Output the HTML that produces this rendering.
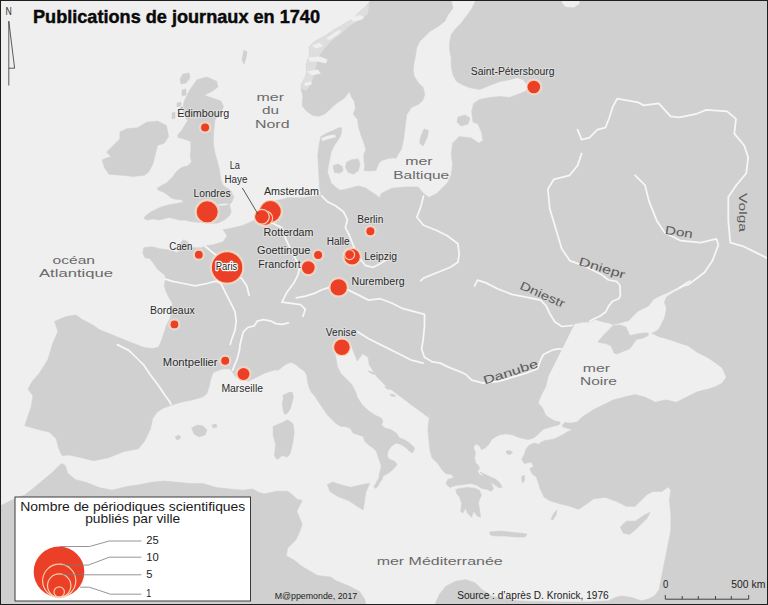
<!DOCTYPE html><html><head><meta charset="utf-8"><style>html,body{margin:0;padding:0;background:#fff;overflow:hidden;width:768px;height:605px;}svg{display:block;font-family:"Liberation Sans",sans-serif;}</style></head><body>
<svg width="768" height="605" viewBox="0 0 768 605">
<rect x="0" y="0" width="768" height="605" fill="#efefef"/>
<g fill="#d0d0d0" stroke="#d0d0d0" stroke-width="0.6" stroke-linejoin="round">
<polygon points="476.0,0.0 768.0,0.0 768.0,605.0 434.6,605.0 439.5,594.3 446.0,586.1 455.8,581.3 465.6,579.6 475.3,582.9 481.8,589.4 491.6,595.9 504.6,599.1 517.7,600.8 530.7,601.4 560.0,602.0 590.0,602.0 608.8,600.8 615.3,597.5 621.8,595.9 631.6,597.5 641.4,600.8 647.9,599.1 654.4,595.9 659.0,590.0 662.0,574.7 665.0,559.8 667.9,545.0 670.9,530.1 670.9,515.2 669.4,500.3 670.9,489.9 667.9,486.9 662.0,491.4 653.1,491.4 647.1,494.4 641.2,500.3 635.2,506.3 626.3,506.3 617.4,501.8 605.5,497.4 593.6,498.8 587.6,503.3 578.7,509.3 569.8,506.3 557.9,503.3 548.9,500.3 544.0,497.0 540.0,488.4 538.7,484.0 536.3,476.7 532.3,474.0 529.7,468.8 533.7,466.1 531.0,462.1 524.4,463.5 521.7,459.5 524.0,455.0 526.0,449.4 528.1,446.2 531.2,444.2 534.4,443.1 538.5,444.2 541.7,442.1 544.8,440.5 549.0,440.0 554.2,439.0 558.3,436.9 562.5,434.8 567.7,431.7 572.9,429.6 567.7,428.5 562.5,426.5 562.5,424.4 560.4,423.6 558.3,424.9 554.2,425.9 549.0,427.5 543.8,429.1 540.6,431.7 536.5,435.8 532.3,438.4 528.1,439.5 522.9,438.4 517.7,436.9 512.5,434.8 506.2,433.8 500.0,434.8 495.4,436.9 491.4,439.8 489.4,443.8 485.4,447.8 481.5,449.7 479.5,445.8 475.5,443.8 473.6,447.8 475.5,452.7 474.5,457.7 475.5,462.6 478.5,465.6 479.5,468.6 477.5,471.6 479.5,474.5 483.5,476.5 487.4,479.5 491.4,483.5 493.4,488.4 491.4,491.4 487.4,489.4 481.5,488.4 477.5,485.5 471.6,483.5 463.6,484.5 455.7,485.5 449.7,487.4 445.8,483.5 447.8,479.5 453.7,477.5 451.7,474.5 445.8,473.6 441.8,469.6 437.9,463.6 431.9,457.7 429.9,449.7 428.9,439.8 427.9,429.9 428.9,420.0 430.0,413.0 428.2,417.3 420.9,411.8 413.6,406.4 406.4,400.9 399.1,395.5 391.8,390.0 384.5,384.5 377.3,377.3 373.6,371.8 369.1,364.5 368.2,357.3 362.7,353.6 357.3,360.9 353.6,352.0 351.0,345.0 345.0,341.0 336.0,346.0 334.5,352.0 335.5,355.5 337.3,366.4 340.9,373.6 346.4,379.1 351.8,384.5 355.5,391.8 357.3,397.3 361.5,404.0 368.1,410.5 374.7,415.0 381.4,418.2 383.0,421.5 381.4,424.8 384.7,428.1 391.3,429.8 396.3,433.1 399.6,438.0 404.5,439.7 409.5,443.0 414.5,447.9 412.8,452.9 409.5,451.2 406.2,447.9 401.2,444.6 396.3,443.0 391.3,446.3 388.0,451.2 387.2,456.2 389.6,459.5 394.6,461.2 397.1,464.5 394.6,467.8 391.3,471.1 386.3,474.4 383.0,476.0 382.2,479.3 379.7,482.6 378.0,486.0 375.6,488.4 373.9,486.8 376.4,482.6 378.9,477.7 379.7,472.7 381.4,466.1 379.7,461.2 378.0,456.2 376.4,451.2 373.1,447.9 368.1,444.6 364.8,441.3 363.2,436.4 358.2,434.7 353.2,433.1 349.9,428.1 345.0,426.4 340.4,426.3 335.9,423.3 331.4,418.9 327.0,414.4 324.0,410.0 321.0,405.5 318.0,401.0 315.1,396.5 311.3,392.1 309.1,387.6 307.6,381.7 306.9,375.7 304.6,371.3 300.2,368.3 295.7,364.6 291.3,362.3 286.8,363.8 282.3,366.8 277.9,370.5 275.4,369.8 265.0,372.9 256.7,377.1 248.3,381.2 240.0,379.2 235.8,377.1 231.7,370.8 229.6,368.8 223.3,368.8 217.1,370.8 212.9,372.9 210.8,379.2 208.8,387.5 206.7,393.8 202.5,396.9 192.1,400.0 181.7,402.1 171.2,405.2 162.9,408.3 156.7,412.5 152.5,418.8 150.4,429.2 144.2,441.7 138.2,448.8 123.3,451.7 108.4,457.7 93.5,460.7 81.6,457.7 69.7,455.0 62.0,455.5 58.5,448.0 56.2,438.8 49.6,432.2 36.4,428.9 24.8,425.6 28.1,415.7 31.4,405.8 33.0,395.9 28.1,389.3 31.4,382.6 39.7,372.7 47.9,359.5 52.9,343.0 57.9,331.4 54.5,321.5 66.1,316.5 76.0,314.9 82.6,319.8 92.6,324.8 99.5,329.8 114.4,335.7 129.2,341.7 144.1,347.6 153.0,348.5 158.5,347.0 161.1,341.4 163.8,333.5 166.4,325.5 170.4,317.6 171.7,309.7 172.4,303.1 169.1,297.8 166.4,292.5 164.4,285.9 165.1,280.6 165.1,275.3 161.0,272.0 157.7,269.5 153.7,263.6 149.8,258.6 144.8,257.6 142.8,252.7 143.8,247.7 151.7,246.7 159.7,248.7 167.6,249.7 177.5,252.7 179.5,249.7 181.5,241.7 183.5,239.8 187.5,241.7 191.4,247.7 201.3,247.7 205.3,245.7 213.3,244.7 223.2,241.7 227.1,235.8 223.2,229.8 231.1,228.3 243.0,225.4 254.9,220.0 258.9,214.0 263.0,209.0 270.0,204.0 276.0,200.5 282.2,199.5 287.2,197.8 294.0,197.8 300.8,197.8 307.5,197.0 314.3,196.1 321.1,194.5 319.3,187.0 319.3,181.4 318.6,169.5 317.8,154.6 319.3,144.2 320.8,136.8 325.3,133.8 332.7,130.8 338.7,127.8 341.6,127.8 341.5,132.0 340.1,136.8 337.2,141.2 334.2,145.7 331.2,151.6 329.7,159.1 328.3,166.5 327.5,172.5 329.7,178.4 331.2,182.9 335.7,187.3 340.1,190.3 344.8,189.4 351.6,187.7 358.3,186.0 365.1,187.7 370.2,191.1 375.3,194.5 379.8,198.0 381.2,193.5 391.7,188.2 405.0,186.9 418.2,186.9 423.5,193.5 428.8,197.4 436.7,193.5 442.0,188.2 447.3,182.9 451.3,175.0 452.6,164.4 451.3,153.8 452.6,143.2 459.2,136.6 471.1,137.9 479.0,143.2 483.0,140.6 481.7,132.6 478.0,124.0 473.0,122.0 471.7,111.4 473.7,103.5 479.6,99.5 489.5,97.5 499.4,96.5 509.4,97.5 517.3,94.6 525.2,91.6 529.0,87.0 523.3,79.7 517.3,77.7 509.4,79.7 499.4,81.7 489.5,85.6 479.6,89.6 469.4,87.6 461.2,84.3 456.2,81.0 452.9,74.4 451.2,66.1 451.2,57.9 449.6,49.6 449.6,43.0 451.2,34.7 456.2,28.1 461.2,23.1 466.1,16.5 471.1,9.9"/>
<polygon points="370.6,0.0 451.2,0.0 452.9,8.3 447.9,14.9 444.6,21.5 438.0,26.4 429.8,31.4 424.8,36.4 419.8,41.3 416.5,47.9 415.7,54.5 414.0,62.8 413.2,69.4 414.0,76.0 418.2,82.6 423.1,87.6 424.8,94.2 423.0,100.0 419.0,104.0 411.5,107.4 406.6,114.9 405.5,124.0 404.5,131.9 403.5,139.8 401.5,148.7 398.6,153.7 395.6,158.7 393.6,157.7 387.7,158.7 381.7,160.6 378.7,163.6 375.8,170.5 369.8,171.0 363.9,170.5 364.9,166.6 363.9,159.6 363.9,153.7 365.9,149.7 363.9,142.8 360.9,134.9 358.9,127.9 358.5,126.7 357.5,119.4 353.3,114.2 355.4,107.9 354.4,101.7 351.2,96.5 349.2,91.2 348.1,93.3 344.0,98.5 338.8,101.7 333.5,105.8 329.4,110.0 324.2,114.2 319.0,116.2 313.0,115.5 309.0,113.0 306.5,111.0 302.3,105.8 302.3,100.6 303.0,96.0 301.2,90.2 301.2,85.0 304.9,77.4 306.9,71.4 305.9,65.5 307.9,59.5 309.9,53.6 308.9,47.6 311.9,43.7 317.8,39.7 323.8,36.7 329.7,32.7 335.7,28.8 341.6,25.8 347.6,21.8 353.5,18.8 357.5,13.9 361.5,9.9 366.4,6.0 369.4,2.0"/>
<polygon points="196.9,79.8 206.8,77.0 216.6,81.2 218.0,86.9 212.4,91.1 204.0,95.3 212.4,98.1 220.8,100.9 223.6,106.5 220.8,112.1 216.6,117.8 214.8,120.4 213.8,130.8 213.2,141.2 214.0,148.0 215.4,155.0 217.5,162.0 219.0,168.0 220.0,174.0 221.0,180.4 223.3,185.7 227.3,188.3 231.3,191.0 232.6,195.0 233.8,196.5 232.1,201.5 229.6,204.8 230.0,207.3 231.3,211.4 229.6,215.5 224.7,219.7 221.4,221.3 218.0,223.0 210.1,223.5 202.2,222.7 195.6,222.1 190.3,221.4 185.0,220.1 179.7,220.1 174.4,218.8 169.1,217.4 163.8,218.8 158.5,220.1 153.2,218.8 147.9,220.1 144.0,218.8 145.3,216.1 150.6,212.1 155.9,209.5 161.2,206.9 166.5,205.5 171.7,204.2 177.0,203.6 182.3,202.2 183.7,200.9 179.7,199.6 174.4,198.9 170.4,197.6 167.8,195.0 163.8,192.3 158.5,190.3 157.2,188.3 161.2,185.7 166.5,183.1 170.4,179.1 173.1,176.4 175.7,172.5 178.4,169.8 182.3,167.2 187.6,165.9 191.6,161.9 190.3,156.6 190.9,150.0 190.8,141.5 184.0,139.0 178.0,137.5 177.8,135.0 181.5,130.8 185.0,125.0 187.7,120.4 183.0,114.0 182.9,107.9 184.3,100.9 187.1,95.3 189.9,89.7 194.1,84.0"/>
<polygon points="119.9,132.1 126.6,128.8 137.6,127.7 146.5,122.2 157.5,121.1 166.4,125.5 168.6,136.6 164.2,143.2 157.5,145.4 155.3,154.3 153.1,163.2 148.7,172.0 144.3,175.3 133.2,176.4 122.1,175.3 108.9,174.2 104.4,167.6 102.2,159.8 111.0,156.5 106.6,152.1 113.3,145.4 119.9,138.8"/>
<polygon points="0.0,506.0 15.6,498.3 24.8,495.0 33.0,488.4 43.0,480.2 52.9,471.9 58.6,465.9 62.0,463.5 65.2,465.4 67.8,473.2 75.6,479.7 86.0,482.3 99.0,487.6 112.0,490.2 127.7,486.3 138.1,485.0 151.1,482.3 164.2,481.0 177.2,482.3 190.2,483.6 203.2,483.6 216.3,487.6 229.3,488.9 242.3,490.2 252.7,488.9 258.0,492.0 263.8,493.9 277.0,491.3 287.6,491.3 292.9,495.2 296.9,499.2 302.2,500.5 299.5,505.8 296.9,511.1 299.5,517.7 302.2,524.3 299.5,532.3 295.6,540.2 287.6,548.1 286.3,556.0 294.0,560.0 302.0,566.5 317.7,575.6 330.7,577.0 336.0,580.8 349.0,586.0 359.4,591.3 364.6,599.0 366.0,605.0 0.0,605.0"/>
</g>
<polygon points="369.4,2.0 366.4,6.0 361.5,9.9 357.5,13.9 353.5,18.8 347.6,21.8 341.6,25.8 335.7,28.8 329.7,32.7 323.8,36.7 317.8,39.7 311.9,43.7 308.9,47.6 309.9,53.6 307.9,59.5 305.9,65.5 306.9,71.4 304.9,77.4 302.0,83.3 301.2,88.0 306.0,91.0 311.0,84.0 314.0,75.0 316.0,66.0 318.0,58.0 322.0,51.7 330.0,42.0 340.8,34.0 349.0,26.5 358.0,20.5 367.9,14.2 369.0,4.0" fill="#dedede"/>
<g fill="#efefef">
<polygon points="574.7,323.9 582.5,322.6 590.0,322.3 595.3,319.7 603.2,322.3 609.8,323.6 612.5,325.0 616.5,324.0 621.7,322.8 628.4,321.0 632.3,317.0 637.6,311.7 642.9,309.1 648.2,306.4 653.5,299.8 660.1,295.9 666.7,293.2 672.0,290.6 680.0,286.6 685.2,282.6 690.0,280.0 691.0,281.5 686.0,285.0 681.0,288.5 673.0,292.5 666.1,297.0 664.1,302.5 666.1,307.8 665.4,313.1 664.1,318.3 661.4,323.6 658.8,328.9 654.8,331.6 650.8,333.5 653.5,334.2 658.8,336.9 664.1,338.2 672.0,340.8 680.0,343.5 687.9,346.1 697.1,352.5 707.5,357.7 715.3,362.9 722.0,368.0 726.0,377.0 722.0,383.0 715.3,386.4 707.5,389.0 697.1,391.6 686.7,396.8 676.3,402.0 665.8,399.4 655.4,402.0 645.0,396.8 634.6,394.2 624.2,396.8 613.8,399.4 603.3,404.6 592.9,409.8 582.6,416.5 577.0,421.8 570.8,422.8 564.6,422.3 562.6,424.8 560.3,424.6 560.4,421.8 555.2,420.7 550.0,418.1 545.8,415.0 542.9,407.9 538.5,403.0 540.8,396.8 546.0,386.4 548.6,375.9 553.9,365.5 559.1,355.1 564.3,344.7 569.5,334.3"/>
<polygon points="562.0,0.0 580.0,0.0 579.0,4.0 574.0,7.4 566.0,7.0 562.0,3.0"/>
<polygon points="218.0,204.5 224.0,203.5 230.0,204.0 224.0,205.5 218.0,205.5"/>
<polygon points="321.5,138.0 328.0,135.5 335.0,134.5 336.0,137.0 329.0,139.0 322.0,141.0"/>
<polygon points="350.6,18.8 359.5,14.9 364.5,16.9 361.5,19.8 353.5,21.8"/>
<polygon points="325.8,38.7 335.7,31.7 341.6,29.8 338.7,33.7 329.7,39.7"/>
<polygon points="311.9,45.6 319.8,42.7 322.8,46.6 315.8,48.6"/>
<polygon points="307.9,57.5 319.8,56.5 327.7,59.5 325.8,63.5 317.8,61.5 309.9,61.5"/>
<polygon points="306.9,71.4 317.8,69.4 320.8,73.4 311.9,75.4"/>
<polygon points="303.9,83.3 310.9,81.3 311.9,84.3 305.9,86.3"/>
</g>
<g fill="#d0d0d0" stroke="#d0d0d0" stroke-width="0.6" stroke-linejoin="round">
<polygon points="597.9,342.1 603.2,335.5 609.8,328.9 613.0,325.5 620.0,325.0 626.0,327.0 629.7,335.5 636.3,334.2 642.9,332.9 648.2,333.0 648.2,335.5 642.9,338.2 636.3,339.5 633.7,343.5 629.7,348.8 623.1,351.4 616.5,354.0 613.8,352.7 611.2,346.1 605.9,343.5 600.6,342.8"/>
<polygon points="283.1,395.1 288.3,392.8 292.0,392.1 293.5,396.5 292.0,402.5 290.5,408.5 287.5,412.9 284.6,414.4 283.1,410.0 282.3,404.0 283.1,399.5"/>
<polygon points="455.7,489.4 459.7,488.4 467.6,487.4 475.5,488.4 479.5,490.4 481.5,495.4 479.5,499.3 478.5,503.3 479.5,509.2 480.5,517.2 477.5,516.2 473.6,511.2 471.6,517.2 467.6,513.2 465.6,508.3 462.6,513.2 460.7,511.2 461.7,503.3 459.7,497.4 456.7,493.4"/>
<polygon points="183.0,74.0 189.0,73.0 190.0,78.0 186.0,83.0 181.0,84.0 180.0,79.0"/>
<polygon points="182.0,90.0 186.0,89.0 186.0,95.0 182.0,96.0"/>
<polygon points="177.0,103.0 181.0,102.0 181.0,106.0 177.0,107.0"/>
<polygon points="172.0,113.0 175.0,112.0 175.0,118.0 172.0,119.0"/>
<polygon points="273.1,426.5 282.3,422.5 287.6,419.8 292.9,423.8 294.2,431.7 292.9,442.3 290.3,452.9 287.6,456.9 282.3,455.6 277.0,459.5 274.4,455.6 275.7,445.0 273.1,434.4"/>
<polygon points="327.3,484.7 332.6,482.0 340.5,484.7 351.1,487.3 361.7,484.7 369.6,483.3 365.7,492.6 364.3,503.2 363.0,509.8 356.4,505.8 348.5,500.5 337.9,496.6 329.9,491.3"/>
<polygon points="489.4,532.1 499.3,531.1 509.2,532.1 519.2,533.0 527.1,534.0 525.1,537.0 515.2,537.0 505.3,536.0 495.4,536.0 490.4,535.0"/>
<polygon points="620.3,527.1 626.3,521.2 635.2,521.2 644.1,515.2 650.1,512.2 647.1,518.2 641.2,524.1 635.2,530.1 629.3,534.6 623.3,533.1"/>
<polygon points="191.7,428.0 197.0,425.0 203.0,426.0 207.0,430.0 205.0,435.0 199.0,437.0 194.0,434.0"/>
<polygon points="212.0,425.0 216.0,424.0 217.0,427.0 213.0,428.0"/>
<polygon points="175.0,437.0 179.0,435.0 181.0,438.0 177.0,440.0"/>
<polygon points="424.0,129.0 428.5,130.5 427.0,138.0 423.0,146.0 419.5,143.0 421.0,136.0"/>
<polygon points="458.0,117.0 465.0,115.0 470.0,118.0 468.0,124.0 461.0,126.0 457.0,122.0"/>
<polygon points="480.0,472.0 487.4,475.5 495.4,479.0 500.0,483.0 502.0,487.5 498.5,487.5 493.0,483.5 486.0,479.0"/>
<polygon points="506.0,451.0 510.0,450.5 512.7,452.5 510.0,454.6 507.0,454.0"/>
<polygon points="522.0,476.0 524.5,475.5 524.6,480.0 522.5,483.3 521.7,479.0"/>
<polygon points="551.0,519.0 554.0,513.0 557.0,510.0 556.0,515.0 553.0,520.0"/>
<polygon points="368.0,371.0 373.0,372.0 377.0,374.5 372.0,374.0"/>
<polygon points="384.5,386.5 389.0,387.0 392.0,389.5 387.0,389.0"/>
<polygon points="390.0,394.0 394.0,394.5 395.5,396.5 391.0,396.0"/>
<polygon points="332.9,165.7 338.0,164.0 342.2,166.5 343.1,170.8 339.7,173.3 334.6,172.5"/>
<polygon points="346.5,162.3 351.6,159.8 358.3,158.9 360.0,164.0 358.3,170.8 353.3,174.1 348.2,172.5 345.6,167.4"/>
<polygon points="244.0,50.0 247.0,52.0 246.0,58.0 244.0,64.0 242.0,60.0"/>
</g>
<g fill="none" stroke="#f7f7f7" stroke-width="1.75" stroke-linejoin="round" stroke-linecap="round">
<polyline points="577.6,129.7 581.6,139.6 589.5,137.6 597.4,129.7 605.4,127.7 609.3,117.8 612.7,106.9 617.2,98.6 638.0,102.4 643.9,105.4 658.8,103.3 670.6,116.4 679.5,117.3 696.6,113.8 706.3,109.9 727.0,111.3 736.0,118.8 734.3,133.6 744.2,145.5 748.2,157.4 746.2,173.3 736.3,185.2 728.3,197.1 728.3,220.9 730.3,242.7 744.2,246.7 756.1,252.6 768.0,258.6"/>
<polyline points="635.1,175.3 645.0,185.2 649.0,201.1 656.9,220.9 664.9,232.8 680.7,240.7 700.6,242.7 716.4,238.8 718.4,244.7 712.5,260.6 704.5,272.5 688.7,284.4 680.0,287.0"/>
<polyline points="581.6,153.5 577.6,165.4 569.7,175.3 553.8,179.3 547.9,189.2 549.8,209.0 555.8,228.8 561.7,248.7 569.7,260.6 585.5,266.5 601.4,274.5 608.5,280.0 616.5,281.3 619.8,285.3 620.4,294.5 619.1,298.5 612.5,301.2 608.5,306.4 605.9,311.7 600.6,315.7 595.3,318.3 590.0,321.0"/>
<polyline points="474.6,285.8 477.5,280.1 486.1,282.9 497.5,288.7 511.9,294.4 526.2,297.2 540.5,300.1 546.0,305.6 550.0,314.0 555.0,322.0 562.0,326.5 572.0,325.5"/>
<polyline points="296.3,297.8 305.6,296.2 315.0,293.1 321.3,290.0 333.4,285.8 345.7,288.7 357.2,294.4 368.6,300.1 380.1,298.7 391.6,303.0 403.0,308.7 414.5,311.6 424.5,314.4 424.5,325.9 423.1,340.2 421.6,348.8 424.5,357.3 431.7,361.6 440.3,363.1 448.9,367.4 460.3,371.7 466.0,374.5 471.8,380.2 483.2,383.1 497.5,381.7 511.9,377.4 526.2,373.1 537.6,368.8 540.5,360.2 543.4,354.5 552.0,350.2 557.7,348.8 562.0,349.0"/>
<polyline points="357.2,331.6 368.6,338.7 383.0,345.9 397.3,353.0 411.6,360.2 423.1,363.1"/>
<polyline points="423.5,196.1 420.8,206.7 416.9,217.3 423.5,225.2 436.7,230.5 447.3,235.8 457.9,243.7 459.2,254.3 457.9,262.2 449.9,267.5 436.7,272.8 423.5,278.1 420.8,280.7"/>
<polyline points="321.6,195.9 327.5,201.8 335.5,205.8 343.4,211.7 347.4,219.7 345.4,227.6 349.4,235.5 353.3,245.5 357.3,255.4 365.2,265.3 373.2,267.3 381.1,263.3 387.1,259.3"/>
<polyline points="262.0,218.0 270.0,222.0 281.9,227.6 285.9,239.5 289.8,247.4 295.8,259.3 299.8,267.3 297.8,275.2 293.8,283.1 286.6,292.8 281.9,302.2 291.2,303.4 300.6,304.6 305.3,309.3 303.0,316.3"/>
<polyline points="232.6,370.2 237.3,358.5 239.7,349.1 240.0,344.7 243.1,332.2 247.8,327.5 254.1,325.9 257.2,321.2 263.4,319.7 271.3,321.2 275.9,323.6 282.2,324.4 288.4,322.8"/>
<polyline points="164.7,278.8 171.7,281.1 183.4,283.5 195.2,285.8 206.9,283.5 216.2,281.1 220.9,283.5 225.6,292.8 230.3,302.2 235.0,311.6 236.2,321.0 235.0,330.4 231.5,339.7 230.3,344.4"/>
<polyline points="205.0,246.0 212.0,252.0 220.0,258.0 227.0,266.0 242.0,278.8 246.7,285.8 249.1,295.2"/>
<polyline points="117.3,344.6 129.2,350.6 138.2,359.5 144.1,365.4 150.1,374.4 159.0,386.3 164.9,395.2 169.4,401.2 170.9,404.1"/>
</g>
<text x="256.5" y="100.5" font-size="11.5" fill="#6a6a6a" font-weight="normal" text-anchor="start" textLength="27.5" lengthAdjust="spacingAndGlyphs">mer</text>
<text x="262" y="113.75" font-size="11.5" fill="#6a6a6a" font-weight="normal" text-anchor="start" textLength="17" lengthAdjust="spacingAndGlyphs">du</text>
<text x="255" y="127.5" font-size="11.5" fill="#6a6a6a" font-weight="normal" text-anchor="start" textLength="34.5" lengthAdjust="spacingAndGlyphs">Nord</text>
<text x="405.3" y="165" font-size="11.5" fill="#6a6a6a" font-weight="normal" text-anchor="start" textLength="27.3" lengthAdjust="spacingAndGlyphs">mer</text>
<text x="393.3" y="178.5" font-size="11.5" fill="#6a6a6a" font-weight="normal" text-anchor="start" textLength="55.9" lengthAdjust="spacingAndGlyphs">Baltique</text>
<text x="52.5" y="263.5" font-size="11.5" fill="#6a6a6a" font-weight="normal" text-anchor="start" textLength="42.5" lengthAdjust="spacingAndGlyphs">océan</text>
<text x="39" y="277.4" font-size="11.5" fill="#6a6a6a" font-weight="normal" text-anchor="start" textLength="74" lengthAdjust="spacingAndGlyphs">Atlantique</text>
<text x="582.8" y="372" font-size="11.5" fill="#6a6a6a" font-weight="normal" text-anchor="start" textLength="27.2" lengthAdjust="spacingAndGlyphs">mer</text>
<text x="580" y="385.4" font-size="11.5" fill="#6a6a6a" font-weight="normal" text-anchor="start" textLength="36.9" lengthAdjust="spacingAndGlyphs">Noire</text>
<text x="376.7" y="565" font-size="11.5" fill="#6a6a6a" font-weight="normal" text-anchor="start" textLength="126" lengthAdjust="spacingAndGlyphs">mer Méditerranée</text>
<text x="510.5" y="376" font-size="11.7" fill="#5a5a5a" text-anchor="middle" transform="rotate(-18 510.5 372)" textLength="57" lengthAdjust="spacingAndGlyphs">Danube</text>
<text x="542.5" y="298.5" font-size="11.7" fill="#5a5a5a" text-anchor="middle" transform="rotate(24 542.5 294.5)" textLength="48" lengthAdjust="spacingAndGlyphs">Dniestr</text>
<text x="602" y="272" font-size="11.7" fill="#5a5a5a" text-anchor="middle" transform="rotate(17 602 268)" textLength="48" lengthAdjust="spacingAndGlyphs">Dniepr</text>
<text x="679" y="236" font-size="11.7" fill="#5a5a5a" text-anchor="middle" transform="rotate(9 679 232)" textLength="28" lengthAdjust="spacingAndGlyphs">Don</text>
<text x="743.4" y="216.5" font-size="11.7" fill="#5a5a5a" text-anchor="middle" transform="rotate(90 743.4 212.5)" textLength="39" lengthAdjust="spacingAndGlyphs">Volga</text>
<circle cx="205.1" cy="127.4" r="6.199999999999999" fill="#ffffff" fill-opacity="0.3"/>
<circle cx="207.2" cy="211.8" r="12.7" fill="#ffffff" fill-opacity="0.3"/>
<circle cx="270.4" cy="211.5" r="12.6" fill="#ffffff" fill-opacity="0.3"/>
<circle cx="265.5" cy="218.3" r="8.7" fill="#ffffff" fill-opacity="0.3"/>
<circle cx="261.9" cy="216.8" r="9.0" fill="#ffffff" fill-opacity="0.3"/>
<circle cx="227.1" cy="267.4" r="17.400000000000002" fill="#ffffff" fill-opacity="0.3"/>
<circle cx="198.8" cy="254.7" r="6.1" fill="#ffffff" fill-opacity="0.3"/>
<circle cx="174.4" cy="324.4" r="6.1" fill="#ffffff" fill-opacity="0.3"/>
<circle cx="225.2" cy="360.8" r="6.199999999999999" fill="#ffffff" fill-opacity="0.3"/>
<circle cx="243.5" cy="374.1" r="8.2" fill="#ffffff" fill-opacity="0.3"/>
<circle cx="341.9" cy="347.3" r="10.0" fill="#ffffff" fill-opacity="0.3"/>
<circle cx="338.6" cy="287.4" r="10.4" fill="#ffffff" fill-opacity="0.3"/>
<circle cx="308.3" cy="267.6" r="8.6" fill="#ffffff" fill-opacity="0.3"/>
<circle cx="318.1" cy="255.1" r="6.199999999999999" fill="#ffffff" fill-opacity="0.3"/>
<circle cx="352.1" cy="256.7" r="9.9" fill="#ffffff" fill-opacity="0.3"/>
<circle cx="349.6" cy="254.6" r="6.6" fill="#ffffff" fill-opacity="0.3"/>
<circle cx="370.4" cy="231.3" r="6.199999999999999" fill="#ffffff" fill-opacity="0.3"/>
<circle cx="533.8" cy="87.0" r="8.5" fill="#ffffff" fill-opacity="0.3"/>
<circle cx="205.1" cy="127.4" r="4.6" fill="#ec3f27" stroke="#f9cfae" stroke-width="1.2"/>
<circle cx="207.2" cy="211.8" r="11.1" fill="#ec3f27" stroke="#f9cfae" stroke-width="1.2"/>
<circle cx="270.4" cy="211.5" r="11.0" fill="#ec3f27" stroke="#f9cfae" stroke-width="1.2"/>
<circle cx="265.5" cy="218.3" r="7.1" fill="#ec3f27" stroke="#f9cfae" stroke-width="1.2"/>
<circle cx="261.9" cy="216.8" r="7.4" fill="#ec3f27" stroke="#f9cfae" stroke-width="1.2"/>
<circle cx="227.1" cy="267.4" r="15.8" fill="#ec3f27" stroke="#f9cfae" stroke-width="1.2"/>
<circle cx="198.8" cy="254.7" r="4.5" fill="#ec3f27" stroke="#f9cfae" stroke-width="1.2"/>
<circle cx="174.4" cy="324.4" r="4.5" fill="#ec3f27" stroke="#f9cfae" stroke-width="1.2"/>
<circle cx="225.2" cy="360.8" r="4.6" fill="#ec3f27" stroke="#f9cfae" stroke-width="1.2"/>
<circle cx="243.5" cy="374.1" r="6.6" fill="#ec3f27" stroke="#f9cfae" stroke-width="1.2"/>
<circle cx="341.9" cy="347.3" r="8.4" fill="#ec3f27" stroke="#f9cfae" stroke-width="1.2"/>
<circle cx="338.6" cy="287.4" r="8.8" fill="#ec3f27" stroke="#f9cfae" stroke-width="1.2"/>
<circle cx="308.3" cy="267.6" r="7.0" fill="#ec3f27" stroke="#f9cfae" stroke-width="1.2"/>
<circle cx="318.1" cy="255.1" r="4.6" fill="#ec3f27" stroke="#f9cfae" stroke-width="1.2"/>
<circle cx="352.1" cy="256.7" r="8.3" fill="#ec3f27" stroke="#f9cfae" stroke-width="1.2"/>
<circle cx="349.6" cy="254.6" r="5.0" fill="#ec3f27" stroke="#f9cfae" stroke-width="1.2"/>
<circle cx="370.4" cy="231.3" r="4.6" fill="#ec3f27" stroke="#f9cfae" stroke-width="1.2"/>
<circle cx="533.8" cy="87.0" r="6.9" fill="#ec3f27" stroke="#f9cfae" stroke-width="1.2"/>
<line x1="242.3" y1="187.9" x2="257.9" y2="214" stroke="#333" stroke-width="0.8"/>
<text x="177.3" y="117.4" font-size="10" fill="#2b2b2b" font-weight="normal" text-anchor="start" textLength="52" lengthAdjust="spacingAndGlyphs" stroke="#ffffff" stroke-opacity="0.28" stroke-width="2.2" paint-order="stroke" stroke-linejoin="round">Édimbourg</text>
<text x="193.5" y="196.8" font-size="10" fill="#2b2b2b" font-weight="normal" text-anchor="start" textLength="37" lengthAdjust="spacingAndGlyphs" stroke="#ffffff" stroke-opacity="0.28" stroke-width="2.2" paint-order="stroke" stroke-linejoin="round">Londres</text>
<text x="229.7" y="169" font-size="10" fill="#2b2b2b" font-weight="normal" text-anchor="start" textLength="10.3" lengthAdjust="spacingAndGlyphs" stroke="#ffffff" stroke-opacity="0.28" stroke-width="2.2" paint-order="stroke" stroke-linejoin="round">La</text>
<text x="224.5" y="182.8" font-size="10" fill="#2b2b2b" font-weight="normal" text-anchor="start" textLength="23" lengthAdjust="spacingAndGlyphs" stroke="#ffffff" stroke-opacity="0.28" stroke-width="2.2" paint-order="stroke" stroke-linejoin="round">Haye</text>
<text x="263.9" y="195" font-size="10" fill="#2b2b2b" font-weight="normal" text-anchor="start" textLength="55" lengthAdjust="spacingAndGlyphs" stroke="#ffffff" stroke-opacity="0.28" stroke-width="2.2" paint-order="stroke" stroke-linejoin="round">Amsterdam</text>
<text x="263.5" y="235.8" font-size="10" fill="#2b2b2b" font-weight="normal" text-anchor="start" textLength="50" lengthAdjust="spacingAndGlyphs" stroke="#ffffff" stroke-opacity="0.28" stroke-width="2.2" paint-order="stroke" stroke-linejoin="round">Rotterdam</text>
<text x="169.2" y="250.1" font-size="10" fill="#2b2b2b" font-weight="normal" text-anchor="start" textLength="23.2" lengthAdjust="spacingAndGlyphs" stroke="#ffffff" stroke-opacity="0.28" stroke-width="2.2" paint-order="stroke" stroke-linejoin="round">Caen</text>
<text x="150" y="314.3" font-size="10" fill="#2b2b2b" font-weight="normal" text-anchor="start" textLength="44.7" lengthAdjust="spacingAndGlyphs" stroke="#ffffff" stroke-opacity="0.28" stroke-width="2.2" paint-order="stroke" stroke-linejoin="round">Bordeaux</text>
<text x="162.8" y="366" font-size="10" fill="#2b2b2b" font-weight="normal" text-anchor="start" textLength="54.8" lengthAdjust="spacingAndGlyphs" stroke="#ffffff" stroke-opacity="0.28" stroke-width="2.2" paint-order="stroke" stroke-linejoin="round">Montpellier</text>
<text x="221.4" y="391.6" font-size="10" fill="#2b2b2b" font-weight="normal" text-anchor="start" textLength="41.6" lengthAdjust="spacingAndGlyphs" stroke="#ffffff" stroke-opacity="0.28" stroke-width="2.2" paint-order="stroke" stroke-linejoin="round">Marseille</text>
<text x="325.8" y="335.6" font-size="10" fill="#2b2b2b" font-weight="normal" text-anchor="start" textLength="30.5" lengthAdjust="spacingAndGlyphs" stroke="#ffffff" stroke-opacity="0.28" stroke-width="2.2" paint-order="stroke" stroke-linejoin="round">Venise</text>
<text x="351.5" y="285.4" font-size="10" fill="#2b2b2b" font-weight="normal" text-anchor="start" textLength="53.1" lengthAdjust="spacingAndGlyphs" stroke="#ffffff" stroke-opacity="0.28" stroke-width="2.2" paint-order="stroke" stroke-linejoin="round">Nuremberg</text>
<text x="258.3" y="267.7" font-size="10" fill="#2b2b2b" font-weight="normal" text-anchor="start" textLength="42.3" lengthAdjust="spacingAndGlyphs" stroke="#ffffff" stroke-opacity="0.28" stroke-width="2.2" paint-order="stroke" stroke-linejoin="round">Francfort</text>
<text x="256.9" y="253.75" font-size="10" fill="#2b2b2b" font-weight="normal" text-anchor="start" textLength="53.5" lengthAdjust="spacingAndGlyphs" stroke="#ffffff" stroke-opacity="0.28" stroke-width="2.2" paint-order="stroke" stroke-linejoin="round">Goettingue</text>
<text x="326.7" y="244.8" font-size="10" fill="#2b2b2b" font-weight="normal" text-anchor="start" textLength="22.9" lengthAdjust="spacingAndGlyphs" stroke="#ffffff" stroke-opacity="0.28" stroke-width="2.2" paint-order="stroke" stroke-linejoin="round">Halle</text>
<text x="364.2" y="260.4" font-size="10" fill="#2b2b2b" font-weight="normal" text-anchor="start" textLength="32.9" lengthAdjust="spacingAndGlyphs" stroke="#ffffff" stroke-opacity="0.28" stroke-width="2.2" paint-order="stroke" stroke-linejoin="round">Leipzig</text>
<text x="357.3" y="222.9" font-size="10" fill="#2b2b2b" font-weight="normal" text-anchor="start" textLength="26" lengthAdjust="spacingAndGlyphs" stroke="#ffffff" stroke-opacity="0.28" stroke-width="2.2" paint-order="stroke" stroke-linejoin="round">Berlin</text>
<text x="470.7" y="75.3" font-size="10" fill="#2b2b2b" font-weight="normal" text-anchor="start" textLength="83.9" lengthAdjust="spacingAndGlyphs" stroke="#ffffff" stroke-opacity="0.28" stroke-width="2.2" paint-order="stroke" stroke-linejoin="round">Saint-Pétersbourg</text>
<text x="215.8" y="269.8" font-size="10" fill="#1a1a1a" font-weight="normal" text-anchor="start" textLength="21.4" lengthAdjust="spacingAndGlyphs" stroke="#ffffff" stroke-width="2.4" paint-order="stroke" stroke-linejoin="round">Paris</text>
<text x="33" y="23.1" font-size="18.6" fill="#0a0a0a" font-weight="bold" text-anchor="start" textLength="287" lengthAdjust="spacingAndGlyphs" stroke="#0a0a0a" stroke-width="0.45">Publications de journaux en 1740</text>
<text x="5.5" y="14.9" font-size="10.3" fill="#333" font-weight="normal" text-anchor="start" textLength="6.3" lengthAdjust="spacingAndGlyphs">N</text>
<line x1="8.8" y1="21.2" x2="8.8" y2="85.5" stroke="#333" stroke-width="0.8"/>
<polyline points="8.8,21.2 14.6,68.2 8.8,68.2" fill="none" stroke="#333" stroke-width="0.8"/>
<rect x="15" y="497" width="235.5" height="104" fill="#ffffff" stroke="#3a3a3a" stroke-width="1"/>
<text x="20.3" y="510.6" font-size="13.5" fill="#1a1a1a" font-weight="normal" text-anchor="start" textLength="225" lengthAdjust="spacingAndGlyphs">Nombre de périodiques scientifiques</text>
<text x="85.2" y="522.8" font-size="13.5" fill="#1a1a1a" font-weight="normal" text-anchor="start" textLength="95" lengthAdjust="spacingAndGlyphs">publiés par ville</text>
<circle cx="59" cy="571.8" r="25.3" fill="#ec3f27"/>
<circle cx="59.2" cy="580.8" r="16.6" fill="none" stroke="#f9cfae" stroke-width="1.2"/>
<circle cx="59.2" cy="585.6" r="11.7" fill="none" stroke="#f9cfae" stroke-width="1.2"/>
<circle cx="59.2" cy="592.0" r="5.2" fill="none" stroke="#f9cfae" stroke-width="1.2"/>
<polyline points="60,546.5 89.4,546.5 109.3,541 141.4,541" fill="none" stroke="#7a7a7a" stroke-width="0.8"/>
<polyline points="62,565.1 88.3,565.1 109.3,557.2 141.4,557.2" fill="none" stroke="#7a7a7a" stroke-width="0.8"/>
<polyline points="62,574.8 141.4,574.8" fill="none" stroke="#7a7a7a" stroke-width="0.8"/>
<polyline points="80,587.2 89.4,587.2 110.5,594.2 141.4,594.2" fill="none" stroke="#7a7a7a" stroke-width="0.8"/>
<text x="146.3" y="544.3" font-size="11.5" fill="#1a1a1a" font-weight="normal" text-anchor="start" textLength="12.5" lengthAdjust="spacingAndGlyphs">25</text>
<text x="146.3" y="561" font-size="11.5" fill="#1a1a1a" font-weight="normal" text-anchor="start" textLength="12.5" lengthAdjust="spacingAndGlyphs">10</text>
<text x="146.3" y="577.8" font-size="11.5" fill="#1a1a1a" font-weight="normal" text-anchor="start" textLength="6.2" lengthAdjust="spacingAndGlyphs">5</text>
<text x="146.3" y="596.6" font-size="11.5" fill="#1a1a1a" font-weight="normal" text-anchor="start" textLength="5" lengthAdjust="spacingAndGlyphs">1</text>
<text x="274.7" y="599" font-size="9" fill="#222" font-weight="normal" text-anchor="start" textLength="82.6" lengthAdjust="spacingAndGlyphs">M@ppemonde, 2017</text>
<text x="457.2" y="599.1" font-size="10.5" fill="#222" font-weight="normal" text-anchor="start" textLength="151.5" lengthAdjust="spacingAndGlyphs">Source : d’après D. Kronick, 1976</text>
<text x="663" y="588" font-size="10" fill="#222" font-weight="normal" text-anchor="start" textLength="5.3" lengthAdjust="spacingAndGlyphs">0</text>
<text x="731.3" y="588" font-size="10" fill="#222" font-weight="normal" text-anchor="start" textLength="34" lengthAdjust="spacingAndGlyphs">500 km</text>
<polyline points="665.3,595 665.3,599.2 748.7,599.2 748.7,595" fill="none" stroke="#333" stroke-width="0.9"/>
<line x1="682.2" y1="596" x2="682.2" y2="599.2" stroke="#333" stroke-width="0.9"/>
<line x1="698.3" y1="596" x2="698.3" y2="599.2" stroke="#333" stroke-width="0.9"/>
<line x1="715.5" y1="596" x2="715.5" y2="599.2" stroke="#333" stroke-width="0.9"/>
<line x1="731.3" y1="596" x2="731.3" y2="599.2" stroke="#333" stroke-width="0.9"/>
<rect x="0.5" y="0.5" width="767" height="604" fill="none" stroke="#1e1e1e" stroke-width="1"/>
</svg></body></html>
